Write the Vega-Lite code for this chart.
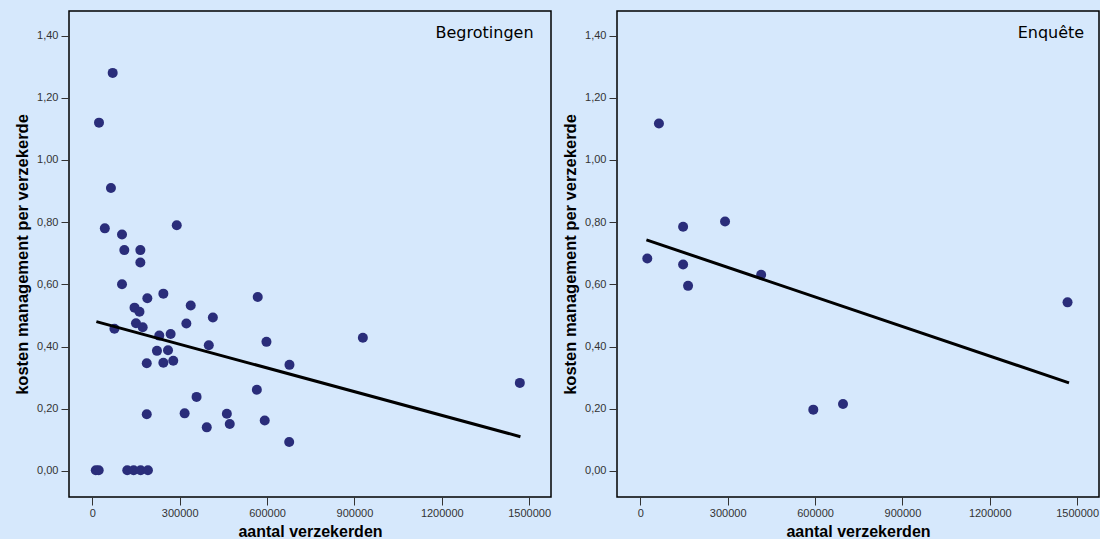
{
  "$schema": "https://vega.github.io/schema/vega-lite/v6.json",
  "background": "#D6E8FC",
  "padding": {"left": 13, "top": 10, "right": 0, "bottom": 0},
  "spacing": 66,
  "bounds": "flush",
  "config": {
    "view": {"stroke": "#000000", "strokeWidth": 1.5, "fill": "#D6E8FC"},
    "axis": {
      "grid": false,
      "domain": false,
      "tickColor": "#333333",
      "tickSize": 8,
      "tickWidth": 1,
      "labelFont": "Liberation Sans",
      "labelFontSize": 11,
      "labelColor": "#333333",
      "titleFont": "Liberation Sans",
      "titleFontSize": 16,
      "titleFontWeight": "bold",
      "titleColor": "#000000"
    }
  },
  "datasets": {
    "begrotingen": [
      {"aantal": 70000, "kosten": 1.28},
      {"aantal": 23000, "kosten": 1.12},
      {"aantal": 64000, "kosten": 0.91},
      {"aantal": 43000, "kosten": 0.78},
      {"aantal": 102000, "kosten": 0.76},
      {"aantal": 290000, "kosten": 0.79},
      {"aantal": 110000, "kosten": 0.71},
      {"aantal": 165000, "kosten": 0.71},
      {"aantal": 165000, "kosten": 0.67},
      {"aantal": 102000, "kosten": 0.60},
      {"aantal": 189000, "kosten": 0.555},
      {"aantal": 244000, "kosten": 0.57},
      {"aantal": 338000, "kosten": 0.532},
      {"aantal": 145000, "kosten": 0.525},
      {"aantal": 162000, "kosten": 0.512},
      {"aantal": 323000, "kosten": 0.474},
      {"aantal": 414000, "kosten": 0.493},
      {"aantal": 150000, "kosten": 0.475},
      {"aantal": 173000, "kosten": 0.462},
      {"aantal": 76000, "kosten": 0.457},
      {"aantal": 230000, "kosten": 0.435},
      {"aantal": 269000, "kosten": 0.44},
      {"aantal": 222000, "kosten": 0.386},
      {"aantal": 260000, "kosten": 0.388},
      {"aantal": 400000, "kosten": 0.404},
      {"aantal": 187000, "kosten": 0.346},
      {"aantal": 244000, "kosten": 0.348},
      {"aantal": 278000, "kosten": 0.354},
      {"aantal": 568000, "kosten": 0.559},
      {"aantal": 598000, "kosten": 0.415},
      {"aantal": 677000, "kosten": 0.341},
      {"aantal": 565000, "kosten": 0.261},
      {"aantal": 358000, "kosten": 0.238},
      {"aantal": 317000, "kosten": 0.185},
      {"aantal": 393000, "kosten": 0.14},
      {"aantal": 462000, "kosten": 0.184},
      {"aantal": 472000, "kosten": 0.151},
      {"aantal": 592000, "kosten": 0.162},
      {"aantal": 676000, "kosten": 0.093},
      {"aantal": 187000, "kosten": 0.182},
      {"aantal": 929000, "kosten": 0.428},
      {"aantal": 1468000, "kosten": 0.283},
      {"aantal": 12000, "kosten": 0.002},
      {"aantal": 22000, "kosten": 0.002},
      {"aantal": 120000, "kosten": 0.002},
      {"aantal": 142000, "kosten": 0.002},
      {"aantal": 166000, "kosten": 0.002},
      {"aantal": 191000, "kosten": 0.002}
    ],
    "begrotingen_fit": [
      {"aantal": 14000, "kosten": 0.48},
      {"aantal": 1470000, "kosten": 0.11}
    ],
    "enquete": [
      {"aantal": 64000, "kosten": 1.117},
      {"aantal": 24000, "kosten": 0.683},
      {"aantal": 147000, "kosten": 0.785},
      {"aantal": 147000, "kosten": 0.664},
      {"aantal": 164000, "kosten": 0.595},
      {"aantal": 291000, "kosten": 0.802},
      {"aantal": 415000, "kosten": 0.631},
      {"aantal": 594000, "kosten": 0.197},
      {"aantal": 696000, "kosten": 0.215},
      {"aantal": 1467000, "kosten": 0.542}
    ],
    "enquete_fit": [
      {"aantal": 21000, "kosten": 0.743},
      {"aantal": 1472000, "kosten": 0.283}
    ],
    "label_b": [{"paneel": "Begrotingen"}],
    "label_e": [{"paneel": "Enquête"}]
  },
  "hconcat": [
    {
      "width": 482,
      "height": 486,
      "layer": [
        {
          "data": {"name": "begrotingen"},
          "mark": {"type": "circle", "size": 100, "color": "#2A2D7A", "opacity": 1},
          "encoding": {
            "x": {
              "field": "aantal", "type": "quantitative",
              "scale": {"domain": [-80000, 1575000], "nice": false, "zero": false},
              "axis": {"values": [0, 300000, 600000, 900000, 1200000, 1500000], "format": "d", "labelPadding": 2, "titlePadding": 5, "title": "aantal verzekerden"}
            },
            "y": {
              "field": "kosten", "type": "quantitative",
              "scale": {"domain": [-0.084, 1.479], "nice": false, "zero": false},
              "axis": {"values": [0, 0.2, 0.4, 0.6, 0.8, 1.0, 1.2, 1.4], "labelExpr": "replace(format(datum.value, '.2f'), '.', ',')", "labelPadding": 3, "titlePadding": 6, "titleFontSize": 16.5, "title": "kosten management per verzekerde"}
            }
          }
        },
        {
          "data": {"name": "begrotingen_fit"},
          "mark": {"type": "line", "color": "#000000", "strokeWidth": 3},
          "encoding": {
            "x": {"field": "aantal", "type": "quantitative"},
            "y": {"field": "kosten", "type": "quantitative"}
          }
        },
        {
          "data": {"name": "label_b"},
          "mark": {"type": "text", "align": "right", "baseline": "alphabetic", "font": "DejaVu Sans", "fontSize": 16, "color": "#000000"},
          "encoding": {
            "x": {"datum": 1515000, "type": "quantitative"},
            "y": {"datum": 1.391, "type": "quantitative"},
            "text": {"field": "paneel"}
          }
        }
      ]
    },
    {
      "width": 482,
      "height": 486,
      "layer": [
        {
          "data": {"name": "enquete"},
          "mark": {"type": "circle", "size": 100, "color": "#2A2D7A", "opacity": 1},
          "encoding": {
            "x": {
              "field": "aantal", "type": "quantitative",
              "scale": {"domain": [-80000, 1575000], "nice": false, "zero": false},
              "axis": {"values": [0, 300000, 600000, 900000, 1200000, 1500000], "format": "d", "labelPadding": 2, "titlePadding": 5, "title": "aantal verzekerden"}
            },
            "y": {
              "field": "kosten", "type": "quantitative",
              "scale": {"domain": [-0.084, 1.479], "nice": false, "zero": false},
              "axis": {"values": [0, 0.2, 0.4, 0.6, 0.8, 1.0, 1.2, 1.4], "labelExpr": "replace(format(datum.value, '.2f'), '.', ',')", "labelPadding": 3, "titlePadding": 6, "titleFontSize": 16.5, "title": "kosten management per verzekerde"}
            }
          }
        },
        {
          "data": {"name": "enquete_fit"},
          "mark": {"type": "line", "color": "#000000", "strokeWidth": 3},
          "encoding": {
            "x": {"field": "aantal", "type": "quantitative"},
            "y": {"field": "kosten", "type": "quantitative"}
          }
        },
        {
          "data": {"name": "label_e"},
          "mark": {"type": "text", "align": "right", "baseline": "alphabetic", "font": "DejaVu Sans", "fontSize": 16, "color": "#000000"},
          "encoding": {
            "x": {"datum": 1524000, "type": "quantitative"},
            "y": {"datum": 1.391, "type": "quantitative"},
            "text": {"field": "paneel"}
          }
        }
      ]
    }
  ]
}
